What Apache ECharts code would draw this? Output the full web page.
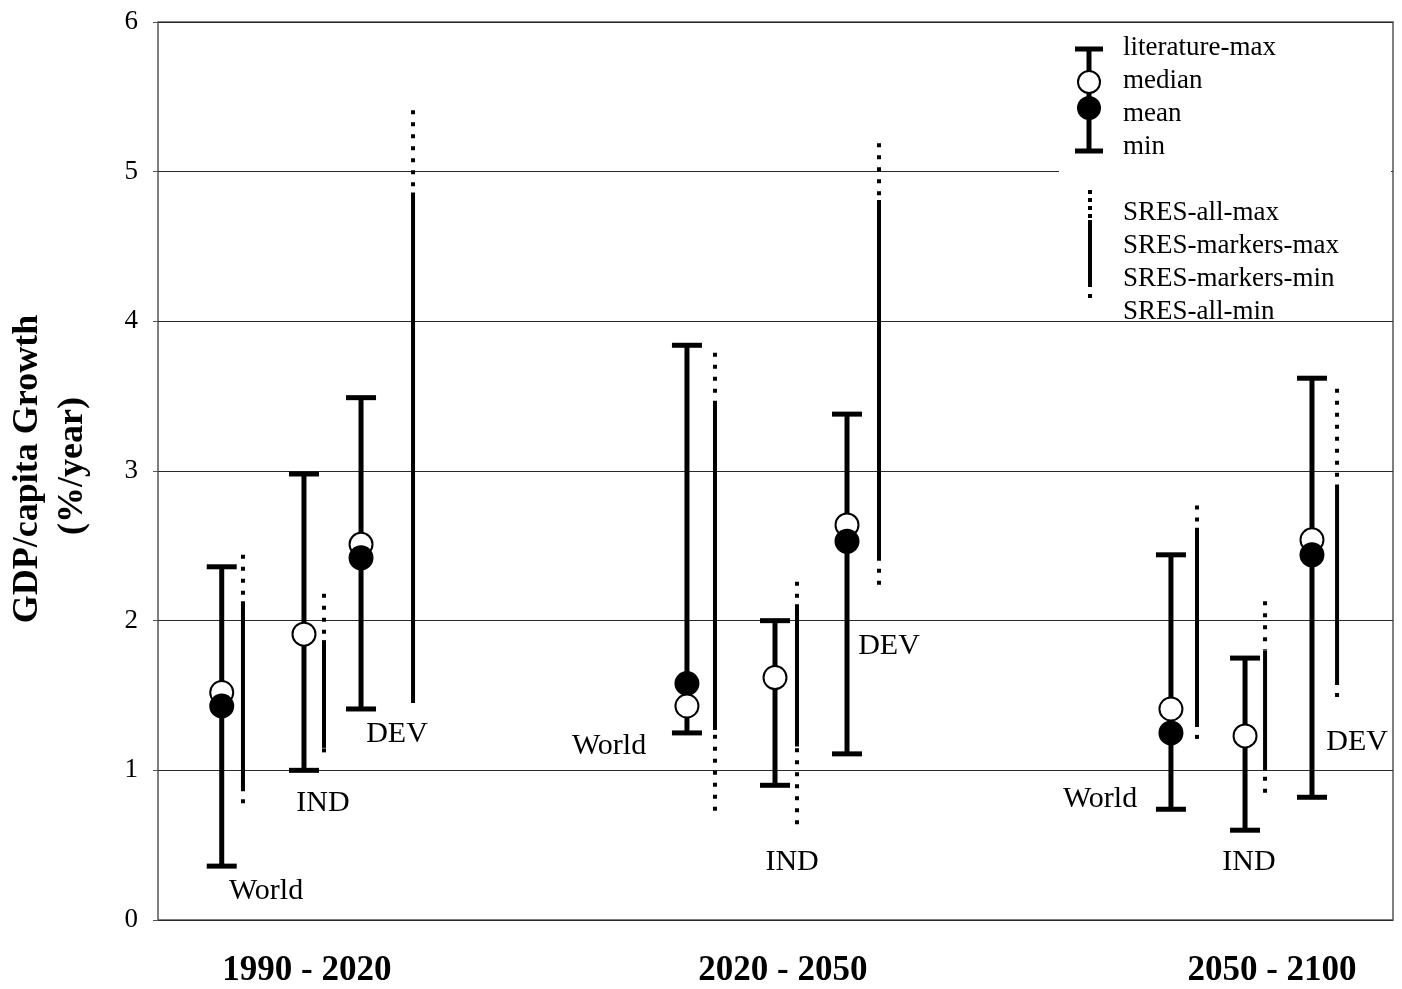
<!DOCTYPE html>
<html><head><meta charset="utf-8">
<script src="https://cdn.jsdelivr.net/npm/echarts@6/dist/echarts.min.js"></script>
<style>html,body{margin:0;padding:0;background:#fff}#chart{width:1402px;height:989px}</style>
</head><body><div id="chart"></div>
<script>
// ---- data ----
const periods = ['1990 - 2020', '2020 - 2050', '2050 - 2100'];
const periodX = [12.06, 50.6, 90.2];
const regions = ['World', 'IND', 'DEV', 'World', 'IND', 'DEV', 'World', 'IND', 'DEV'];
// literature ranges (x slot position, min, max, median, mean)
const litX      = [5.16, 11.82, 16.44, 42.83, 49.96, 55.79, 82.02, 88.02, 93.44];
const litMin    = [0.36, 1.00, 1.41, 1.25, 0.90, 1.11, 0.74, 0.60, 0.82];
const litMax    = [2.36, 2.98, 3.49, 3.84, 2.00, 3.38, 2.44, 1.75, 3.62];
const litMedian = [1.52, 1.91, 2.51, 1.43, 1.62, 2.64, 1.41, 1.23, 2.54];
const litMean   = [1.43, null, 2.42, 1.58, null, 2.53, 1.25, null, 2.44];
// SRES ranges
const sresX          = [6.88, 13.44, 20.65, 45.10, 51.74, 58.38, 84.13, 89.64, 95.47];
const sresAllMax     = [2.44, 2.18, 5.41, 3.79, 2.26, 5.19, 2.77, 2.13, 3.55];
const sresMarkersMax = [2.13, 1.87, 4.86, 3.47, 2.11, 4.81, 2.62, 1.80, 2.91];
const sresMarkersMin = [0.86, 1.15, 1.45, 1.27, 1.16, 2.40, 1.29, 1.00, 1.57];
const sresAllMin     = [0.78, 1.12, 1.45, 0.73, 0.64, 2.24, 1.21, 0.85, 1.49];
// region label anchors
const labelX = [8.75, 13.36, 19.35, 36.52, 51.34, 59.19, 76.28, 88.34, 97.09];
const labelY = [0.19, 0.78, 1.24, 1.16, 0.39, 1.83, 0.81, 0.39, 1.19];
const yTicks = [0, 1, 2, 3, 4, 5, 6];
const legendLit = ['literature-max', 'median', 'mean', 'min'];
const legendSres = ['SRES-all-max', 'SRES-markers-max', 'SRES-markers-min', 'SRES-all-min'];
const yTitle = ['GDP/capita Growth', '(%/year)'];

// ---- chart ----
const FONT = "'Liberation Serif', 'Times New Roman', serif";
const chart = echarts.init(document.getElementById('chart'));

function renderLit(params, api) {
  const x = api.value(0);
  const lo = api.coord([x, api.value(1)]);
  const hi = api.coord([x, api.value(2)]);
  const med = api.value(3), mean = api.value(4);
  const cw = 15, st = {stroke: '#000', lineWidth: 5};
  const ch = [
    {type: 'line', shape: {x1: lo[0], y1: lo[1], x2: hi[0], y2: hi[1]}, style: st},
    {type: 'line', shape: {x1: hi[0] - cw, y1: hi[1], x2: hi[0] + cw, y2: hi[1]}, style: st},
    {type: 'line', shape: {x1: lo[0] - cw, y1: lo[1], x2: lo[0] + cw, y2: lo[1]}, style: st}
  ];
  const circles = [{v: med, fill: '#fff'}];
  if (mean != null && !isNaN(mean)) circles.push({v: mean, fill: '#000'});
  circles.sort((a, b) => b.v - a.v);
  circles.forEach(c => {
    const p = api.coord([x, c.v]);
    ch.push({type: 'circle', shape: {cx: p[0], cy: p[1], r: 11.5}, style: {fill: c.fill, stroke: '#000', lineWidth: 2}});
  });
  return {type: 'group', children: ch};
}

function renderSres(params, api) {
  const x = api.value(0);
  const aMin = api.coord([x, api.value(1)]);
  const mMin = api.coord([x, api.value(2)]);
  const mMax = api.coord([x, api.value(3)]);
  const aMax = api.coord([x, api.value(4)]);
  const px = aMin[0];
  const dot = {stroke: '#000', lineWidth: 4, lineDash: [4, 8], lineCap: 'butt'};
  const ch = [];
  if (mMax[1] - aMax[1] > 1) ch.push({type: 'line', shape: {x1: px, y1: aMax[1], x2: px, y2: mMax[1]}, style: dot});
  ch.push({type: 'line', shape: {x1: px, y1: mMax[1], x2: px, y2: mMin[1]}, style: {stroke: '#000', lineWidth: 4}});
  if (aMin[1] - mMin[1] > 1) ch.push({type: 'line', shape: {x1: px, y1: aMin[1], x2: px, y2: mMin[1]}, style: dot});
  return {type: 'group', children: ch};
}

const graphics = [];
// legend background box
graphics.push({type: 'rect', z: 10, shape: {x: 1059, y: 24, width: 332, height: 294}, style: {fill: '#fff'}});
// literature legend icon
const lic = {stroke: '#000', lineWidth: 5};
graphics.push({type: 'line', z: 11, shape: {x1: 1089, y1: 49, x2: 1089, y2: 151}, style: lic});
graphics.push({type: 'line', z: 11, shape: {x1: 1075, y1: 49, x2: 1103, y2: 49}, style: lic});
graphics.push({type: 'line', z: 11, shape: {x1: 1075, y1: 151, x2: 1103, y2: 151}, style: lic});
graphics.push({type: 'circle', z: 12, shape: {cx: 1089, cy: 82, r: 11}, style: {fill: '#fff', stroke: '#000', lineWidth: 2}});
graphics.push({type: 'circle', z: 12, shape: {cx: 1089, cy: 108, r: 11}, style: {fill: '#000', stroke: '#000', lineWidth: 2}});
// SRES legend icon
graphics.push({type: 'line', z: 11, shape: {x1: 1090, y1: 190, x2: 1090, y2: 220}, style: {stroke: '#000', lineWidth: 4, lineDash: [4, 4]}});
graphics.push({type: 'line', z: 11, shape: {x1: 1090, y1: 220, x2: 1090, y2: 287}, style: {stroke: '#000', lineWidth: 4}});
graphics.push({type: 'line', z: 11, shape: {x1: 1090, y1: 294, x2: 1090, y2: 298}, style: {stroke: '#000', lineWidth: 4}});
legendLit.forEach((t, i) => graphics.push({type: 'text', z: 12, x: 1123, y: 48 + 33 * i,
  style: {text: t, font: '27px ' + FONT, fill: '#000', textAlign: 'left', textVerticalAlign: 'middle'}}));
legendSres.forEach((t, i) => graphics.push({type: 'text', z: 12, x: 1123, y: 213 + 33 * i,
  style: {text: t, font: '27px ' + FONT, fill: '#000', textAlign: 'left', textVerticalAlign: 'middle'}}));
// y-axis title
const yTitlePos = [[28, 469], [73, 466]];
yTitle.forEach((t, i) => graphics.push({type: 'text', z: 12, x: yTitlePos[i][0], y: yTitlePos[i][1], rotation: Math.PI / 2,
  style: {text: t, font: 'bold 36px ' + FONT, fill: '#000', textAlign: 'center', textVerticalAlign: 'middle'}}));

const labelCommon = {show: true, position: 'inside', formatter: '{b}', fontFamily: FONT, color: '#000',
  opacity: 1, textBorderWidth: 0, textShadowBlur: 0};

const option = {
  animation: false,
  backgroundColor: '#fff',
  grid: {left: 158, top: 22, right: 9, bottom: 69, show: true, borderColor: '#555', borderWidth: 1.5, backgroundColor: 'transparent'},
  xAxis: {type: 'value', min: 0, max: 100, show: false},
  yAxis: {
    type: 'value', min: yTicks[0], max: yTicks[yTicks.length - 1], interval: yTicks[1] - yTicks[0],
    axisLine: {show: false},
    axisTick: {show: true, length: 5, lineStyle: {color: '#555'}},
    axisLabel: {fontFamily: FONT, fontSize: 27, color: '#000', margin: 20},
    splitLine: {lineStyle: {color: '#2a2a2a', width: 1.2}}
  },
  graphic: graphics,
  series: [
    {
      type: 'custom', name: 'SRES', renderItem: renderSres, z: 3,
      encode: {x: 0, y: [1, 2, 3, 4]},
      data: sresX.map((x, i) => [x, sresAllMin[i], sresMarkersMin[i], sresMarkersMax[i], sresAllMax[i]])
    },
    {
      type: 'custom', name: 'literature', renderItem: renderLit, z: 4,
      encode: {x: 0, y: [1, 2, 3]},
      data: litX.map((x, i) => [x, litMin[i], litMax[i], litMedian[i], litMean[i]])
    },
    {
      type: 'scatter', name: 'regions', symbolSize: 1, itemStyle: {color: 'rgba(0,0,0,0)', opacity: 1}, silent: true, z: 5,
      label: Object.assign({}, labelCommon, {fontSize: 30}),
      data: regions.map((r, i) => ({name: r, value: [labelX[i], labelY[i]]}))
    },
    {
      type: 'scatter', name: 'periods', symbolSize: 1, itemStyle: {color: 'rgba(0,0,0,0)', opacity: 1}, silent: true, clip: false, z: 5,
      label: Object.assign({}, labelCommon, {offset: [0, 51], fontSize: 35, fontWeight: 'bold'}),
      data: periods.map((p, i) => ({name: p, value: [periodX[i], 0]}))
    }
  ]
};
chart.setOption(option);
</script>
</body></html>
